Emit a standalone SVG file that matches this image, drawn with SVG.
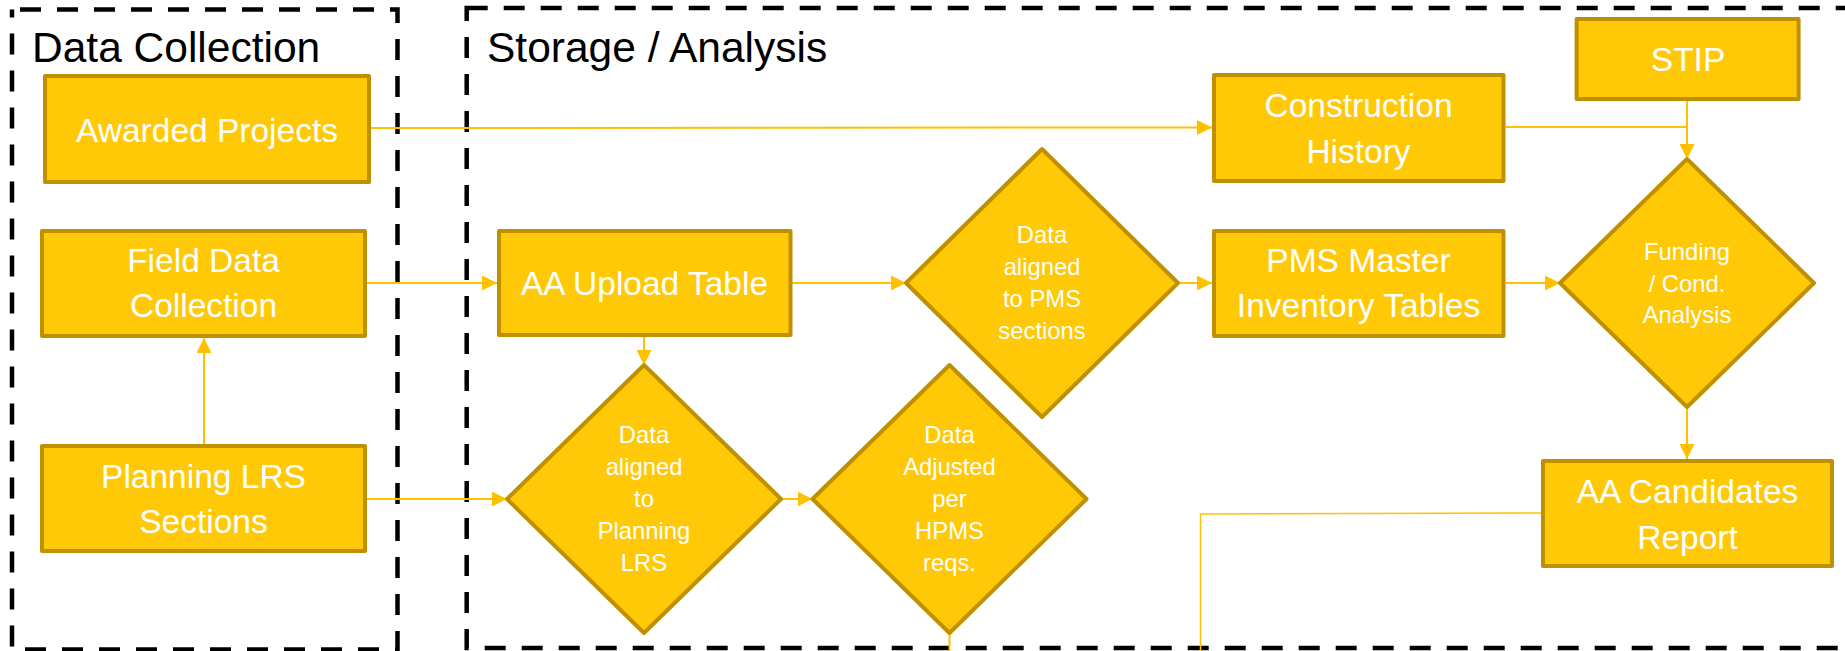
<svg xmlns="http://www.w3.org/2000/svg" width="1845" height="651" viewBox="0 0 1845 651">
<style>
.box{fill:#FFC907;stroke:#BF9000;stroke-width:4;stroke-linejoin:round}
.t{fill:#fff;font-family:"Liberation Sans",Arial,sans-serif;font-size:33.5px;text-anchor:middle}
.d{fill:#fff;font-family:"Liberation Sans",Arial,sans-serif;font-size:23.8px;text-anchor:middle}
.title{fill:#000;font-family:"Liberation Sans",Arial,sans-serif;font-size:42.5px}
.grp{fill:none;stroke:#000;stroke-width:4.5;stroke-dasharray:21 16}
.c{fill:none;stroke:#FFC000;stroke-width:2}
.ca{fill:none;stroke:#FFC000;stroke-width:2;marker-end:url(#ah)}
.thin{fill:none;stroke:#FFC000;stroke-width:1.5}
</style>
<defs>
<marker id="ah" viewBox="0 0 15 15" refX="15" refY="7.5" markerWidth="15" markerHeight="15" markerUnits="userSpaceOnUse" orient="auto">
<path d="M0,0 L15,7.5 L0,15 z" fill="#FFC000"/>
</marker>
</defs>
<rect width="1845" height="651" fill="#fff"/>
<g id="group-data-collection">
<rect class="grp" x="12" y="9.5" width="385.5" height="640" stroke-dashoffset="29"/>
<text class="title" x="32" y="62">Data Collection</text>
</g>
<g id="group-storage-analysis">
<rect class="grp" x="466.7" y="8" width="1420" height="640"/>
<text class="title" x="487" y="62">Storage / Analysis</text>
</g>
<g id="connectors">
<path class="ca" d="M371,128 L1212,127.5"/>
<path class="ca" d="M367,283 L497,283"/>
<path class="ca" d="M367,499 L507,499"/>
<path class="ca" d="M204,444 L204,338"/>
<path class="ca" d="M792,283 L906,283"/>
<path class="ca" d="M644,337 L644,365"/>
<path class="ca" d="M781,499 L812.5,499"/>
<path class="ca" d="M1178,283 L1212,283"/>
<path class="ca" d="M1505.5,283 L1560,283"/>
<path class="c" d="M1505.5,127 L1687,127"/>
<path class="ca" d="M1687,101 L1687,159"/>
<path class="ca" d="M1687,407 L1687,459"/>
<path class="c" d="M949.5,633 L949.5,651"/>
<path class="thin" d="M1541,513 L1200.5,514 L1200.5,651"/>
</g>
<g id="node-awarded-projects">
<rect class="box" x="45" y="76" width="324" height="106"/>
<text class="t" x="207" y="142">Awarded Projects</text>
</g>
<g id="node-field-data-collection">
<rect class="box" x="42" y="231" width="323" height="105"/>
<text class="t" x="203.5" y="272">Field Data</text>
<text class="t" x="203.5" y="317">Collection</text>
</g>
<g id="node-planning-lrs-sections">
<rect class="box" x="42" y="446" width="323" height="105"/>
<text class="t" x="203.5" y="488">Planning LRS</text>
<text class="t" x="203.5" y="533">Sections</text>
</g>
<g id="node-aa-upload-table">
<rect class="box" x="499" y="231" width="291.5" height="104"/>
<text class="t" x="644.5" y="295">AA Upload Table</text>
</g>
<g id="node-aligned-pms">
<polygon class="box" points="1042,149 1178,283 1042,417 906,283"/>
<text class="d" x="1042" y="243">Data</text>
<text class="d" x="1042" y="275">aligned</text>
<text class="d" x="1042" y="307">to PMS</text>
<text class="d" x="1042" y="339">sections</text>
</g>
<g id="node-aligned-planning-lrs">
<polygon class="box" points="644,365 781,499 644,633 507,499"/>
<text class="d" x="644" y="443">Data</text>
<text class="d" x="644" y="475">aligned</text>
<text class="d" x="644" y="507">to</text>
<text class="d" x="644" y="539">Planning</text>
<text class="d" x="644" y="571">LRS</text>
</g>
<g id="node-adjusted-hpms">
<polygon class="box" points="949.5,365 1086.5,499 949.5,633 812.5,499"/>
<text class="d" x="949.5" y="443">Data</text>
<text class="d" x="949.5" y="475">Adjusted</text>
<text class="d" x="949.5" y="507">per</text>
<text class="d" x="949.5" y="539">HPMS</text>
<text class="d" x="949.5" y="571">reqs.</text>
</g>
<g id="node-construction-history">
<rect class="box" x="1214" y="75" width="289.5" height="106"/>
<text class="t" x="1358.5" y="117">Construction</text>
<text class="t" x="1358.5" y="163">History</text>
</g>
<g id="node-pms-master">
<rect class="box" x="1214" y="231" width="289.5" height="105"/>
<text class="t" x="1358.5" y="272">PMS Master</text>
<text class="t" x="1358.5" y="317">Inventory Tables</text>
</g>
<g id="node-stip">
<rect class="box" x="1576.6" y="19" width="222" height="80"/>
<text class="t" x="1688" y="71">STIP</text>
</g>
<g id="node-funding">
<polygon class="box" points="1687,159 1814,283 1687,407 1560,283"/>
<text class="d" x="1687" y="260">Funding</text>
<text class="d" x="1687" y="292">/ Cond.</text>
<text class="d" x="1687" y="323">Analysis</text>
</g>
<g id="node-aa-candidates-report">
<rect class="box" x="1543" y="461" width="289" height="105"/>
<text class="t" x="1687.5" y="503">AA Candidates</text>
<text class="t" x="1687.5" y="549">Report</text>
</g>
</svg>
